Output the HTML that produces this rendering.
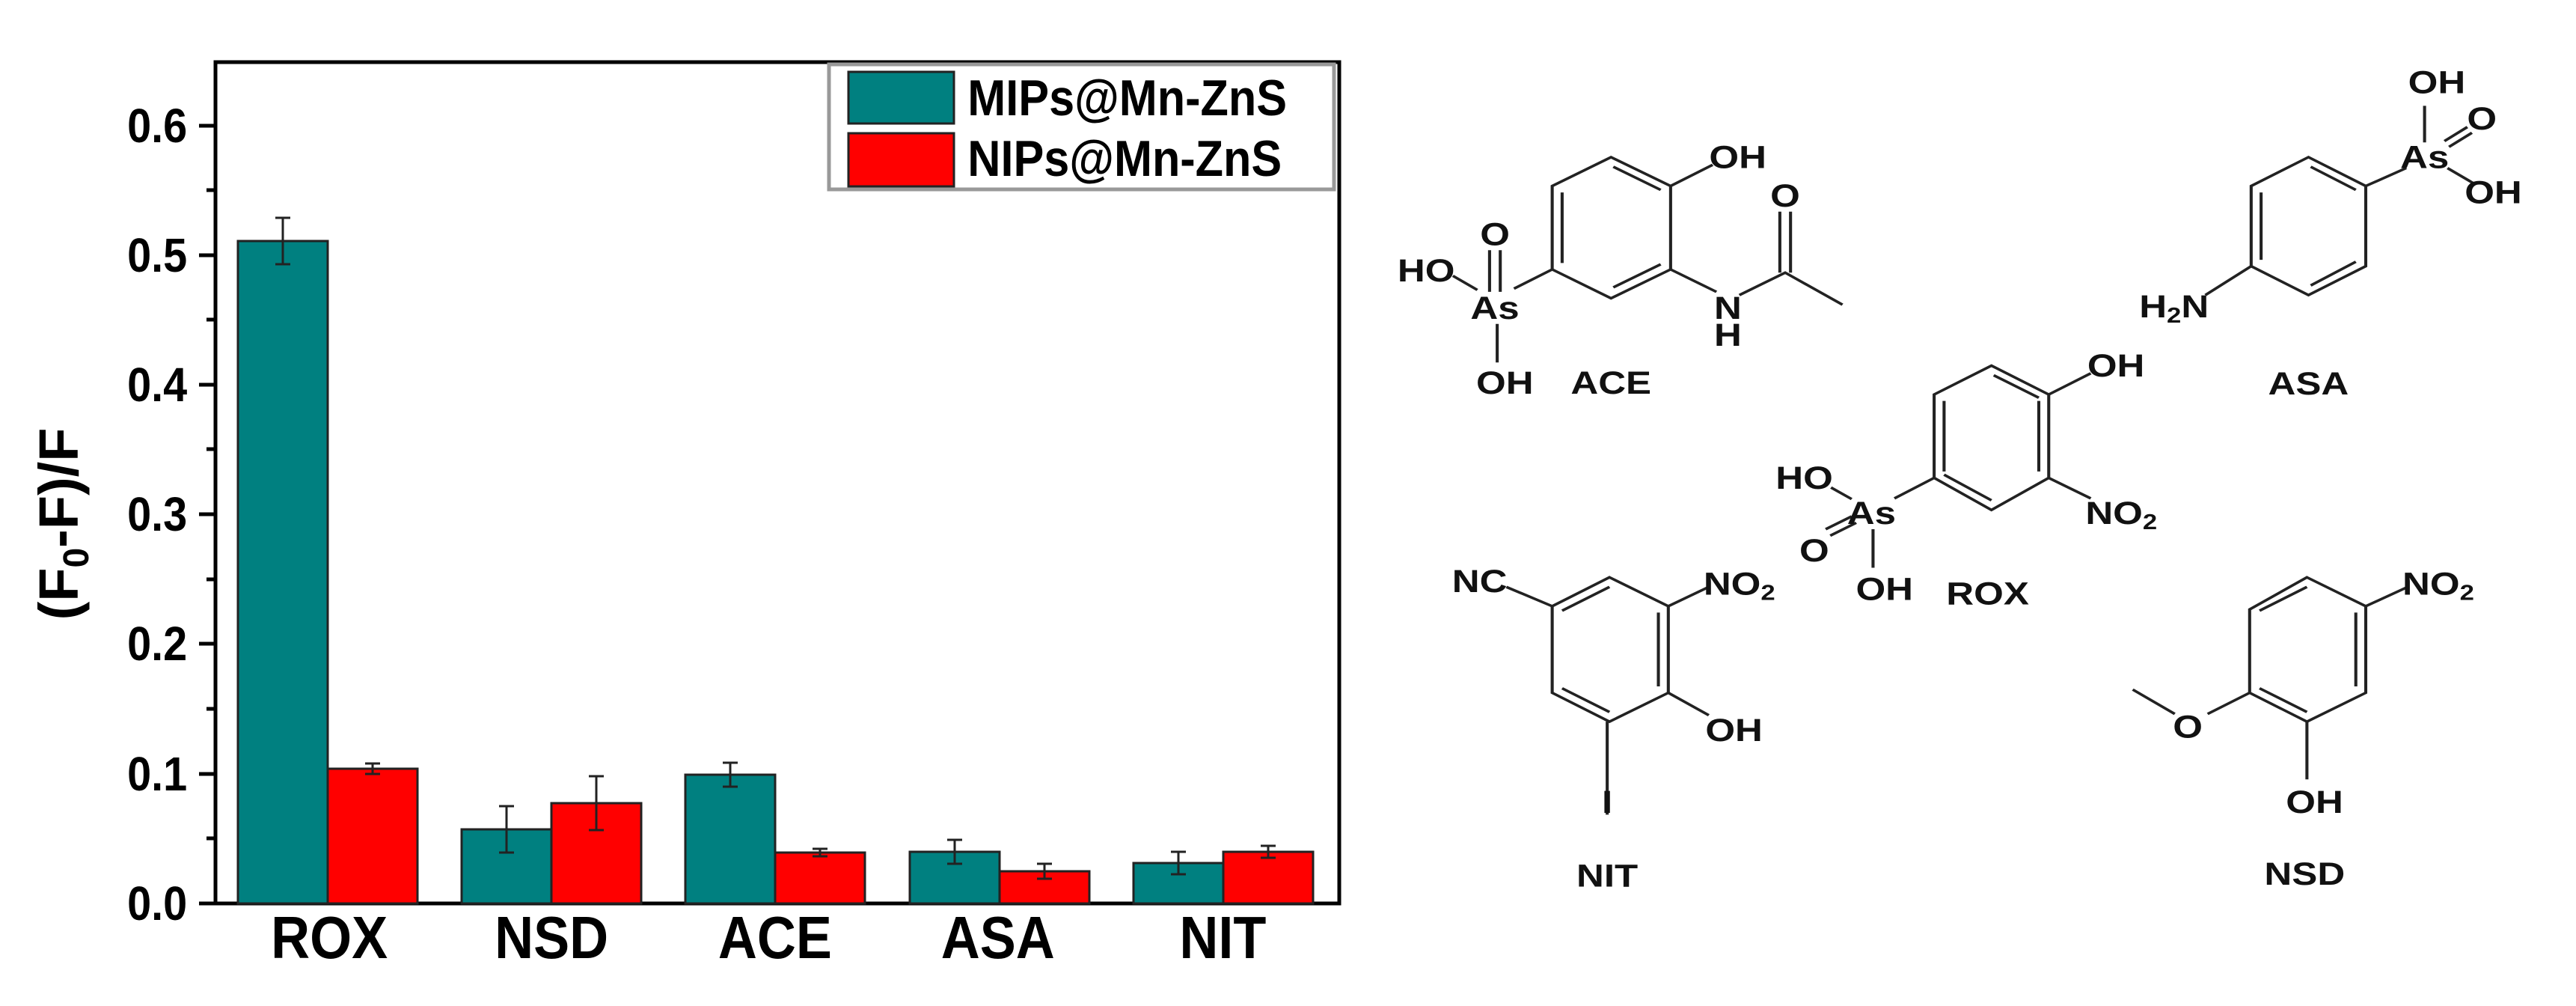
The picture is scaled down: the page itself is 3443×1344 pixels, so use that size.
<!DOCTYPE html>
<html><head><meta charset="utf-8"><style>
html,body{margin:0;padding:0;background:#fff}
svg{display:block}
text{font-family:"Liberation Sans",sans-serif;font-weight:bold}
</style></head><body>
<svg width="3443" height="1344" viewBox="0 0 3443 1344" xmlns="http://www.w3.org/2000/svg">
<rect x="288" y="83" width="1502" height="1124" fill="none" stroke="#000" stroke-width="5"/>
<g stroke="#000" stroke-width="5">
<line x1="266" y1="1207" x2="288" y2="1207"/><line x1="276" y1="1120" x2="288" y2="1120"/>
<line x1="266" y1="1034" x2="288" y2="1034"/><line x1="276" y1="947" x2="288" y2="947"/>
<line x1="266" y1="860" x2="288" y2="860"/><line x1="276" y1="774" x2="288" y2="774"/>
<line x1="266" y1="687" x2="288" y2="687"/><line x1="276" y1="600" x2="288" y2="600"/>
<line x1="266" y1="514" x2="288" y2="514"/><line x1="276" y1="427" x2="288" y2="427"/>
<line x1="266" y1="341" x2="288" y2="341"/><line x1="276" y1="254" x2="288" y2="254"/>
<line x1="266" y1="168" x2="288" y2="168"/>
</g>
<g font-size="64" text-anchor="end" transform="scale(0.9,1)">
<text x="278" y="1229">0.0</text><text x="278" y="1056">0.1</text><text x="278" y="882">0.2</text>
<text x="278" y="709">0.3</text><text x="278" y="536">0.4</text><text x="278" y="363">0.5</text>
<text x="278" y="190">0.6</text>
</g>
<text transform="translate(104,700) rotate(-90)" font-size="74" text-anchor="middle">(F<tspan font-size="48" dy="14">0</tspan><tspan dy="-14">-F)/F</tspan></text>
<g stroke="#222" stroke-width="3">
<rect x="318" y="322" width="120" height="885" fill="#008080"/><rect x="438" y="1027" width="120" height="180" fill="#ff0000"/>
<rect x="617" y="1108" width="120" height="99" fill="#008080"/><rect x="737" y="1073" width="120" height="134" fill="#ff0000"/>
<rect x="916" y="1035" width="120" height="172" fill="#008080"/><rect x="1036" y="1139" width="120" height="68" fill="#ff0000"/>
<rect x="1216" y="1138" width="120" height="69" fill="#008080"/><rect x="1336" y="1164" width="120" height="43" fill="#ff0000"/>
<rect x="1515" y="1153" width="120" height="54" fill="#008080"/><rect x="1635" y="1138" width="120" height="69" fill="#ff0000"/>
</g>
<g stroke="#222" stroke-width="3" fill="none">
<path d="M378 291V353M368 291H388M368 353H388"/>
<path d="M498 1020V1034M488 1020H508M488 1034H508"/>
<path d="M677 1077V1139M667 1077H687M667 1139H687"/>
<path d="M797 1037V1109M787 1037H807M787 1109H807"/>
<path d="M976 1019V1051M966 1019H986M966 1051H986"/>
<path d="M1096 1134V1144M1086 1134H1106M1086 1144H1106"/>
<path d="M1276 1122V1154M1266 1122H1286M1266 1154H1286"/>
<path d="M1396 1154V1174M1386 1154H1406M1386 1174H1406"/>
<path d="M1575 1138V1168M1565 1138H1585M1565 1168H1585"/>
<path d="M1695 1130V1146M1685 1130H1705M1685 1146H1705"/>
</g>
<g font-size="80" text-anchor="middle" transform="scale(0.9,1)">
<text x="489" y="1280">ROX</text><text x="819" y="1280">NSD</text><text x="1151" y="1280">ACE</text>
<text x="1482" y="1280">ASA</text><text x="1816" y="1280">NIT</text>
</g>
<rect x="1108" y="86" width="675" height="167" fill="#fff" stroke="#999" stroke-width="5"/>
<rect x="1134" y="96" width="141" height="69" fill="#008080" stroke="#222" stroke-width="3"/>
<rect x="1134" y="178" width="141" height="71" fill="#ff0000" stroke="#222" stroke-width="3"/>
<g font-size="68" transform="scale(0.9,1)">
<text x="1437" y="154">MIPs@Mn-ZnS</text><text x="1437" y="235">NIPs@Mn-ZnS</text>
</g>
<g transform="translate(1850,0) scale(1.021,0.857)">
<g stroke="#222" stroke-width="4" fill="none">
<path d="M297 245L375 290L375 420L297 465L220 420L220 290Z"/>
<path d="M300 260L362 296M362 412L300 448M233 300V410"/>
<path d="M375 290L430 257M375 420L435 455M465 460L525 425L600 475M518 425V330M532 425V330M220 420L170 450M90 430L122 452M138 455V390M152 455V390M148 505V565"/>
<path d="M1210 245L1285 290L1285 415L1210 460L1135 415L1135 290Z"/>
<path d="M1213 260L1272 296M1272 408L1213 445M1148 300V405"/>
<path d="M1075 460L1135 415M1285 290L1338 262M1362 165V222M1388 220L1418 198M1394 229L1424 207M1392 262L1425 285"/>
<path d="M795 570L870 615L870 745L795 795L720 745L720 615Z"/>
<path d="M798 585L857 620M857 625V735M733 625V735M795 780L733 740"/>
<path d="M870 615L925 582M870 745L925 777M720 745L668 777M585 760L612 778M578 825L612 805M584 835L618 815M640 825V885"/>
<path d="M295 900L372 945L372 1080L295 1125L220 1080L220 945Z"/>
<path d="M295 915L233 952M359 955V1070M295 1110L233 1073"/>
<path d="M160 915L220 945M372 945L425 915M372 1080L425 1115M292 1125V1270"/>
<path d="M1208 900L1285 945L1285 1080L1208 1125L1133 1080L1133 950Z"/>
<path d="M1208 915L1146 952M1272 955V1070M1208 1110L1146 1073"/>
<path d="M1285 945L1340 915M1133 1080L1078 1113M980 1075L1035 1113M1208 1125V1215"/>
</g>
<g font-size="50" text-anchor="middle" fill="#111">
<text x="463" y="262">OH</text><text x="450" y="497">N</text><text x="450" y="539">H</text><text x="525" y="322">O</text>
<text x="145" y="497">As</text><text x="145" y="382">O</text><text x="55" y="439">HO</text><text x="158" y="614">OH</text><text x="297" y="614">ACE</text>
<text x="1034" y="495">H<tspan font-size="34" dy="8">2</tspan><tspan dy="-8">N</tspan></text>
<text x="1362" y="262">As</text><text x="1378" y="145">OH</text><text x="1437" y="202">O</text><text x="1452" y="317">OH</text><text x="1210" y="615">ASA</text>
<text x="958" y="587">OH</text><text x="965" y="817">NO<tspan font-size="34" dy="8">2</tspan></text><text x="638" y="817">As</text><text x="550" y="762">HO</text><text x="563" y="875">O</text><text x="655" y="935">OH</text><text x="790" y="942">ROX</text>
<text x="125" y="923">NC</text><text x="465" y="927">NO<tspan font-size="34" dy="8">2</tspan></text><text x="458" y="1155">OH</text><text x="292" y="1267">I</text><text x="292" y="1382">NIT</text>
<text x="1380" y="927">NO<tspan font-size="34" dy="8">2</tspan></text><text x="1052" y="1150">O</text><text x="1218" y="1267">OH</text><text x="1205" y="1379">NSD</text>
</g>
</g>
</svg>
</body></html>
